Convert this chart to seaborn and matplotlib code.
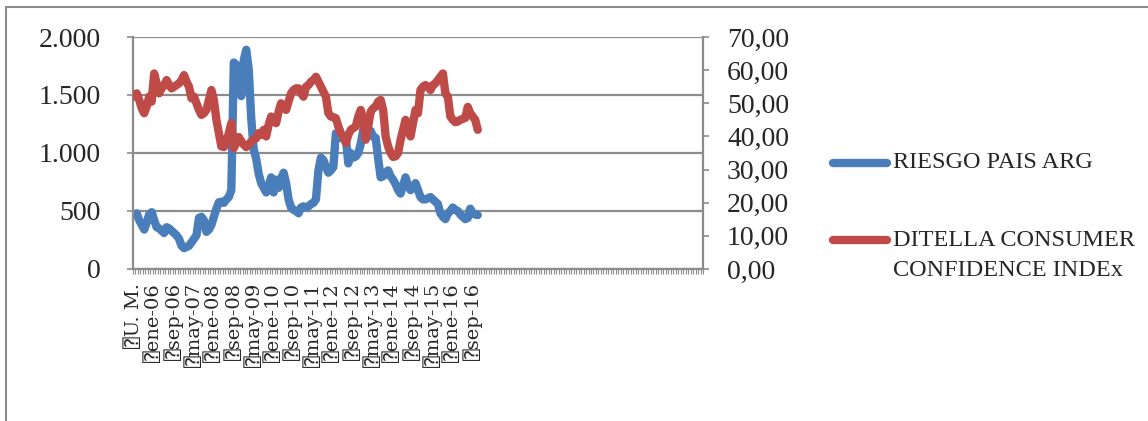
import numpy as np
import pandas as pd
import matplotlib
matplotlib.use("Agg")
import matplotlib.pyplot as plt
from matplotlib.lines import Line2D
from matplotlib.patches import Rectangle
import seaborn as sns

# Monthly series, starting in May 2005
riesgo_pais = [
    470, 480, 420, 380, 340, 400, 470, 490, 420, 360,
    350, 330, 310, 360, 350, 330, 310, 290, 260, 200,
    180, 190, 200, 230, 260, 290, 440, 450, 420, 320,
    340, 380, 450, 520, 575, 580, 570, 600, 620, 680,
    1780, 1760, 1600, 1490, 1800, 1890, 1720, 1300, 1030, 950,
    820, 740, 700, 660, 720, 790, 660, 770, 700, 780,
    830, 740, 600, 530, 510, 500, 480, 530, 540, 530,
    540, 560, 570, 600, 850, 960, 940, 880, 830, 850,
    880, 1170, 1150, 1130, 1140, 1130, 910, 1000, 960, 970,
    1000, 1080, 1200, 1180, 1200, 1190, 1140, 1130, 950, 790,
    800, 830, 850, 800, 770, 730, 680, 650, 720, 790,
    720, 680, 700, 740, 680, 620, 600, 600, 610, 620,
    600, 580, 560, 480, 450, 430, 480, 500, 530, 510,
    500, 470, 450, 430, 440, 520, 480, 470, 465,
]

ditella_cci = [
    52.0, 53.0, 51.0, 48.5, 47.0, 49.0, 52.0, 50.5, 59.0, 56.0,
    53.0, 54.5, 55.5, 57.0, 55.5, 54.5, 55.0, 55.5, 56.0, 57.0,
    58.5, 56.5, 55.0, 51.5, 52.0, 50.0, 48.0, 46.5, 47.0, 48.0,
    51.0, 54.0, 51.0, 45.0, 41.0, 37.0, 36.8, 38.5, 41.0, 44.0,
    36.5, 38.0, 39.8, 38.5, 37.5, 36.8, 37.5, 38.5, 39.0, 39.5,
    41.0, 40.5, 42.0, 40.0, 43.5, 46.0, 45.0, 44.0, 47.5, 50.0,
    49.0, 48.0, 50.5, 53.0, 54.0, 54.5, 54.5, 53.0, 52.0, 55.0,
    55.5, 56.5, 57.0, 58.0, 56.5, 55.0, 53.5, 52.0, 47.0, 46.0,
    45.8, 45.5, 43.0, 41.0, 39.8, 38.0, 40.5, 42.0, 42.5, 43.0,
    46.0, 48.0, 45.0, 39.0, 43.0, 47.5, 48.5, 49.0, 50.5, 51.0,
    48.0, 40.0, 37.0, 35.0, 33.8, 34.0, 35.0, 39.0, 42.0, 45.0,
    42.0, 40.0, 44.0, 48.0, 47.0, 54.0, 55.0, 55.5, 55.0, 54.0,
    55.5, 56.0, 57.0, 58.0, 59.0, 53.0, 52.0, 46.0, 45.0, 44.3,
    44.5, 45.0, 45.3, 45.6, 48.9, 47.0, 46.0, 45.0, 42.0,
]

# Category axis labels, one every eight months
x_labels = ["U. M.", "ene-06", "sep-06", "may-07", "ene-08", "sep-08",
            "may-09", "ene-10", "sep-10", "may-11", "ene-12", "sep-12",
            "may-13", "ene-14", "sep-14", "may-15", "ene-16", "sep-16"]
n_categories = 229
label_step = 8

left_ticks = [0, 500, 1000, 1500, 2000]
right_ticks = [0, 10, 20, 30, 40, 50, 60, 70]

series_names = ["RIESGO PAIS ARG", "DITELLA CONSUMER", "CONFIDENCE INDEx"]
blue = "#4a7ebb"
red = "#be4b48"
gray = "#8c8c8c"

sns.set_style("white")
plt.rcParams["font.family"] = ["Liberation Serif", "DejaVu Sans", "DejaVu Sans Mono"]

df = pd.DataFrame({
    "mes": np.arange(len(riesgo_pais)),
    "riesgo": riesgo_pais,
    "cci": ditella_cci,
})

W, H = 1148, 421
fig = plt.figure(figsize=(W / 100, H / 100), dpi=100)
ax = fig.add_axes([133 / W, 1 - 269 / H, (703 - 133) / W, (269 - 37) / H])
ax2 = ax.twinx()

line_kw = dict(linewidth=6.0, solid_capstyle="round", solid_joinstyle="round")
sns.lineplot(data=df, x="mes", y="riesgo", ax=ax, color=blue, legend=False, **line_kw)
sns.lineplot(data=df, x="mes", y="cci", ax=ax2, color=red, legend=False, **line_kw)

ax.set_xlim(-0.5, n_categories - 0.5)
ax.set_ylim(0, 2000)
ax2.set_ylim(0, 70)

# Gridlines from the primary axis only
ax.set_yticks(left_ticks)
ax.set_yticklabels([f"{v:,}".replace(",", ".") for v in left_ticks])
ax.yaxis.grid(True, color=gray, linewidth=1.6)
ax.xaxis.grid(False)
ax.set_axisbelow(True)
ax2.set_yticks(right_ticks)
ax2.set_yticklabels([f"{v:.2f}".replace(".", ",") for v in right_ticks])
ax2.grid(False)

label_pos = np.arange(len(x_labels)) * label_step
ax.set_xticks(label_pos)
ax.set_xticklabels(["\u2370" + s for s in x_labels], rotation=90, fontsize=14,
                   family=["DejaVu Serif", "DejaVu Sans Mono", "DejaVu Sans"])
ax.set_xticks(np.arange(-0.5, n_categories, 1), minor=True)
ax.tick_params(axis="x", which="major", length=0, pad=10)
ax.tick_params(axis="x", which="minor", length=3.8, width=0.8, color=gray, bottom=True)
ax.tick_params(axis="y", which="major", length=4.3, width=1.2, color=gray,
               labelsize=20, pad=19, left=True)
ax2.tick_params(axis="y", which="major", length=4.3, width=1.2, color=gray,
                labelsize=20, pad=13, right=True)
ax.set_xlabel("")
ax.set_ylabel("")
ax2.set_ylabel("")

for a in (ax, ax2):
    a.spines["top"].set_visible(False)
    for side in ("left", "right", "bottom"):
        a.spines[side].set_color(gray)
        a.spines[side].set_linewidth(1.6)
ax.spines["right"].set_visible(False)
ax2.spines["left"].set_visible(False)
ax2.spines["bottom"].set_visible(False)

# Legend entries to the right of the plot
legend_size = 17.5
for y_px, color in [(163, blue), (240, red)]:
    yf = 1 - y_px / H
    fig.add_artist(Line2D([833 / W, 887 / W], [yf, yf], color=color,
                          linewidth=6.0, solid_capstyle="round"))
fig.text(893 / W, 1 - 163 / H, series_names[0], fontsize=legend_size, va="center", ha="left")
fig.text(893 / W, 1 - 240 / H, series_names[1], fontsize=legend_size, va="center", ha="left")
fig.text(893 / W, 1 - 270 / H, series_names[2], fontsize=legend_size, va="center", ha="left")

# Chart frame
fig.add_artist(Rectangle((6 / W, -0.2), 1.2, 1.2 - 7 / H, transform=fig.transFigure,
                         fill=False, edgecolor=gray, linewidth=1.5))

fig.savefig("out.png", dpi=100)
